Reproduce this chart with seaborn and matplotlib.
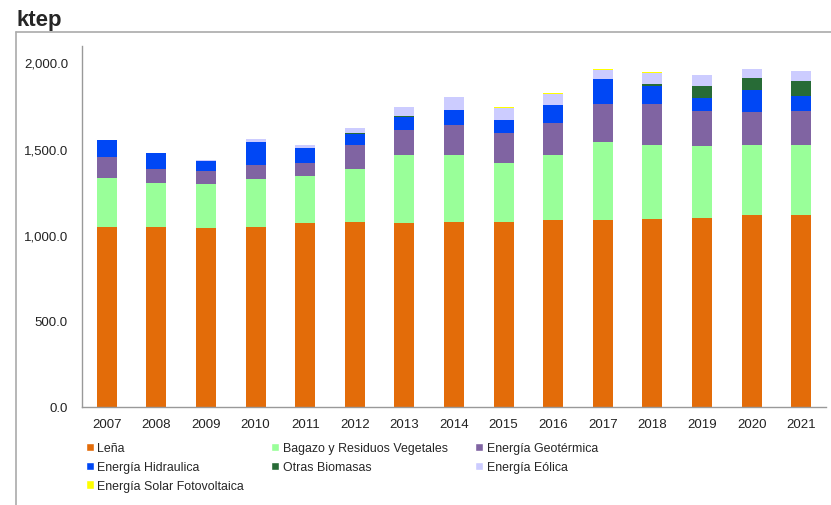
import numpy as np
import pandas as pd
import seaborn as sns
import matplotlib.pyplot as plt
from matplotlib.ticker import FuncFormatter, FixedLocator
from matplotlib.lines import Line2D
from matplotlib.patches import Patch

# datos (ktep)
years = [str(y) for y in range(2007, 2022)]
lena = [1043, 1047, 1039, 1047, 1067, 1071, 1067, 1074, 1074, 1084, 1088, 1093, 1096, 1117, 1113]
bagazo = [284, 256, 254, 277, 272, 313, 394, 387, 344, 381, 452, 425, 419, 406, 410]
geotermica = [124, 77, 77, 81, 79, 135, 147, 176, 174, 182, 220, 238, 201, 187, 193]
hidraulica = [97, 96, 56, 133, 85, 68, 77, 87, 72, 106, 141, 110, 75, 129, 87]
otras_biomasas = [0, 0, 0, 0, 0, 2, 2, 2, 2, 2, 2, 6, 70, 72, 89]
eolica = [0, 0, 8, 15, 17, 29, 52, 72, 70, 62, 54, 68, 64, 48, 56]
solar = [0, 0, 0, 0, 0, 0, 1, 4, 4, 4, 5, 3, 4, 5, 5]

series = [
    ("Leña", lena, "#E36C09"),
    ("Bagazo y Residuos Vegetales", bagazo, "#99FF99"),
    ("Energía Geotérmica", geotermica, "#8064A2"),
    ("Energía Hidraulica", hidraulica, "#0047F5"),
    ("Otras Biomasas", otras_biomasas, "#276B36"),
    ("Energía Eólica", eolica, "#CCCCFF"),
    ("Energía Solar Fotovoltaica", solar, "#FFFF00"),
]

sns.set_style("white")
plt.rcParams['font.family'] = ['Liberation Sans', 'DejaVu Sans']

df = pd.DataFrame({"year": years})
for name, vals, _ in series:
    df[name] = vals
cum = df[[s[0] for s in series]].cumsum(axis=1)

fig = plt.figure(figsize=(8.31, 5.06), dpi=100)
ax = fig.add_axes([0.0987, 0.1937, 0.8953, 0.7133])

# apilado: se dibuja del total hacia abajo
for name, _, color in reversed(series):
    sns.barplot(x=df["year"], y=cum[name], color=color, width=0.4,
                saturation=1, ax=ax, linewidth=0)

ax.set_ylim(0, 2095)
ax.set_xlim(-0.5, len(years) - 0.5)
ax.set_xlabel("")
ax.set_ylabel("")
ax.yaxis.set_major_locator(FixedLocator([0, 500, 1000, 1500, 2000]))
ax.yaxis.set_major_formatter(FuncFormatter(lambda v, p: f"{v:,.1f}"))
ax.xaxis.set_minor_locator(FixedLocator(np.arange(-0.5, len(years), 1.0)))
ax.tick_params(axis="x", which="major", length=0, labelsize=9.5, pad=8)
ax.tick_params(axis="x", which="minor", length=3.5, color="#999999", direction="out")
ax.tick_params(axis="y", length=3.6, color="#999999", direction="out", labelsize=9.5,
               pad=6.5, labelcolor="#222222")
ax.tick_params(axis="x", labelcolor="#222222")
for s in ["top", "right"]:
    ax.spines[s].set_visible(False)
for s in ["left", "bottom"]:
    ax.spines[s].set_color("#999999")
    ax.spines[s].set_linewidth(1)

# leyenda (orden por filas)
handles = {name: Patch(facecolor=color, label=name) for name, _, color in series}
order = ["Leña", "Energía Hidraulica", "Energía Solar Fotovoltaica",
         "Bagazo y Residuos Vegetales", "Otras Biomasas",
         "Energía Geotérmica", "Energía Eólica"]
fig.legend([handles[n] for n in order], order, ncol=3, loc="upper left",
           bbox_to_anchor=(0.103, 0.124), frameon=False, fontsize=8.9,
           handlelength=0.65, handleheight=0.65, handletextpad=0.3,
           columnspacing=2.2, labelspacing=0.55, borderaxespad=0, borderpad=0)

fig.text(0.02, 0.96, "ktep", fontsize=16, fontweight="bold", va="center", ha="left")

# marco
fig.add_artist(Line2D([0.0193, 1.0], [0.935, 0.935], color="#aaaaaa", lw=1.2))
fig.add_artist(Line2D([0.0193, 0.0193], [0.0, 0.935], color="#aaaaaa", lw=1.2))

fig.savefig("out.png", dpi=100)
